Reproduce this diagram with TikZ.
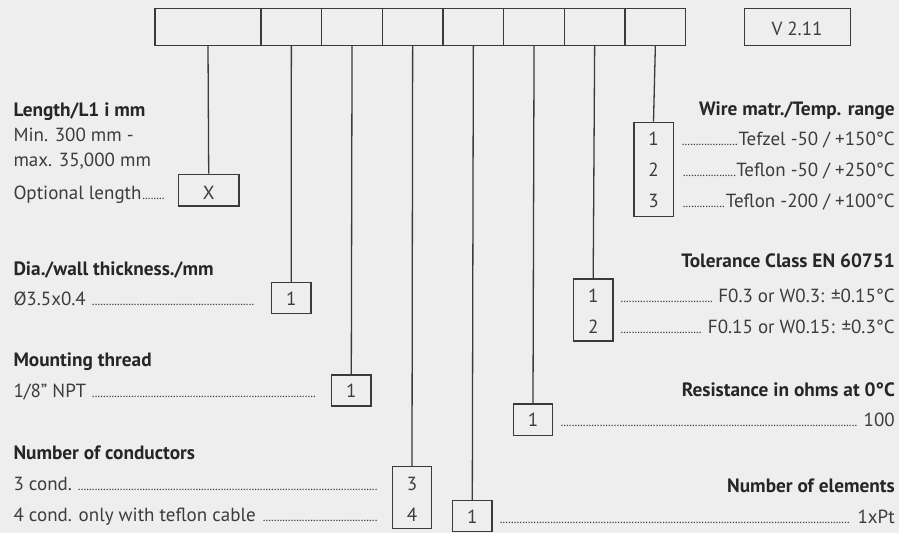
\documentclass[tikz,border=0pt]{standalone}
\usepackage{fontspec}
\setmainfont{PT Sans}
\definecolor{bgc}{HTML}{EEEEEE}
\definecolor{txt}{HTML}{3C3C3C}
\definecolor{ttl}{HTML}{262626}
\definecolor{lin}{HTML}{3A3A3A}
\newcommand\mydots{\leaders\hbox to 2.8pt{\hss{\fontsize{12.5}{10}\selectfont.}\hss}\hfill}
\newcommand\lline[2]{\hbox to #1{#2\mydots}}
\newcommand\rline[2]{\hbox to #1{\mydots#2}}
\begin{document}
\begin{tikzpicture}[x=1pt,y=-1pt,
  every node/.style={font=\fontsize{19}{22}\selectfont, text=txt, inner sep=0pt},
  ttlnode/.style={font=\fontsize{19.3}{22}\selectfont\bfseries, text=ttl},
  cell/.style={draw=lin, line width=1.4pt, minimum height=36.7pt, inner sep=0pt, anchor=north west},
  selbox/.style={draw=lin, line width=1.3pt, minimum width=39.3pt, inner sep=0pt},
  conn/.style={draw=lin, line width=1.3pt}]
\fill[bgc] (0,0) rectangle (899,533);
\useasboundingbox (0,0) rectangle (899,533);
% top code cells
\node[cell, minimum width=106pt] (c1) at (154.3,8) {};
\node[cell, minimum width=60.7pt] (c2) at (260.3,8) {};
\node[cell, minimum width=60.7pt] (c3) at (321,8) {};
\node[cell, minimum width=60.7pt] (c4) at (381.6,8) {};
\node[cell, minimum width=60.7pt] (c5) at (442.3,8) {};
\node[cell, minimum width=60.7pt] (c6) at (503,8) {};
\node[cell, minimum width=60.7pt] (c7) at (563.6,8) {};
\node[cell, minimum width=60.7pt] (c8) at (624.3,8) {};
\node[cell, minimum width=106pt, minimum height=37pt] (ver) at (744,8) {};
\node[anchor=base] (vtext) at (797,35) {V 2.11};
% selection boxes
\node[selbox, minimum width=60.7pt, minimum height=31.7pt] (bx) at (208.7,190.2) {};
\node[selbox, minimum height=30.7pt] (bdia) at (291.3,298) {};
\node[selbox, minimum height=31pt] (bmnt) at (351.3,390.5) {};
\node[selbox, minimum height=62pt] (bcnd) at (412,497.7) {};
\node[selbox, minimum height=31pt] (belm) at (472.3,516.2) {};
\node[selbox, minimum height=31.3pt] (bres) at (533,419.7) {};
\node[selbox, minimum height=62pt] (btol) at (593.2,310) {};
\node[selbox, minimum height=94pt] (bwir) at (653.5,169.3) {};
% connectors
\draw[conn] (c1.south) -- (bx.north);
\draw[conn] (c2.south) -- (bdia.north);
\draw[conn] (c3.south) -- (bmnt.north);
\draw[conn] (c4.south) -- (bcnd.north);
\draw[conn] (c5.south) -- (belm.north);
\draw[conn] (c6.south) -- (bres.north);
\draw[conn] (c7.south) -- (btol.north);
\draw[conn] (c8.south) -- (bwir.north);
% numbers in boxes
\node[anchor=base] (nx) at (208.7,199) {X};
\node[anchor=base] (ndia) at (291.3,305) {1};
\node[anchor=base] (nmnt) at (351.3,397.7) {1};
\node[anchor=base] (ncnd3) at (412,490.7) {3};
\node[anchor=base] (ncnd4) at (412,521.7) {4};
\node[anchor=base] (nelm) at (472.3,523.3) {1};
\node[anchor=base] (nres) at (533,426.7) {1};
\node[anchor=base] (ntol1) at (593.2,302.7) {1};
\node[anchor=base] (ntol2) at (593.2,333.3) {2};
\node[anchor=base] (nwir1) at (653.5,145.7) {1};
\node[anchor=base] (nwir2) at (653.5,176.7) {2};
\node[anchor=base] (nwir3) at (653.5,207.3) {3};
% left side texts
\node[ttlnode, anchor=base west] (tlen) at (13.3,116) {Length/L1 i mm};
\node[anchor=base west] (len1) at (13.3,141.3) {Min. 300 mm -};
\node[anchor=base west] (len2) at (13.3,166.7) {max. 35,000 mm};
\node[anchor=base west] (len3) at (13.3,199) {\lline{153.4pt}{Optional length}};
\node[ttlnode, anchor=base west] (tdia) at (13.3,275) {Dia./wall thickness./mm};
\node[anchor=base west] (dia1) at (13.3,305) {\lline{243.4pt}{Ø3.5x0.4\ }};
\node[ttlnode, anchor=base west] (tmnt) at (13.3,366.7) {Mounting thread};
\node[anchor=base west] (mnt1) at (13.3,397.7) {\lline{303.4pt}{1/8" NPT\ }};
\node[ttlnode, anchor=base west] (tcnd) at (13.3,459.3) {Number of conductors};
\node[anchor=base west] (cnd1) at (13.3,490.7) {\lline{364.7pt}{3 cond.\ }};
\node[anchor=base west] (cnd2) at (13.3,521.7) {\lline{364.7pt}{4 cond. only with teflon cable\ }};
% right side texts
\node[ttlnode, anchor=base east] (twir) at (895,115) {Wire matr./Temp. range};
\node[anchor=base east] (wir1) at (895,145.7) {\rline{213pt}{Tefzel -50 / +150°C}};
\node[anchor=base east] (wir2) at (895,176.7) {\rline{212pt}{Teflon -50 / +250°C}};
\node[anchor=base east] (wir3) at (895,207.3) {\rline{212pt}{Teflon -200 / +100°C}};
\node[ttlnode, anchor=base east] (ttol) at (895,267.5) {Tolerance Class EN 60751};
\node[anchor=base east] (tol1) at (895,302.7) {\rline{274.3pt}{\ F0.3 or W0.3: ±0.15°C}};
\node[anchor=base east] (tol2) at (895,333.3) {\rline{274.3pt}{\ F0.15 or W0.15: ±0.3°C}};
\node[ttlnode, anchor=base east] (tres) at (895,396.7) {Resistance in ohms at 0°C};
\node[anchor=base east] (res1) at (895,426.7) {\rline{334.3pt}{\ 100}};
\node[ttlnode, anchor=base east] (telm) at (895,492.3) {Number of elements};
\node[anchor=base east] (elm1) at (895,523.3) {\rline{395pt}{\ 1xPt}};
\end{tikzpicture}
\end{document}
